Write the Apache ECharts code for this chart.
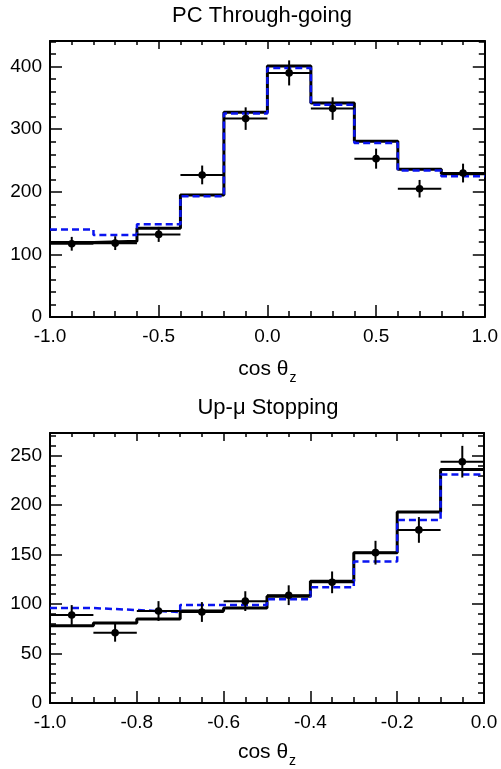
<!DOCTYPE html>
<html>
<head>
<meta charset="utf-8">
<script src="https://cdn.jsdelivr.net/npm/echarts@6/dist/echarts.min.js"></script>
<style>
  html, body { margin: 0; padding: 0; background: #fff; }
  #chart { width: 501px; height: 769px; }
</style>
</head>
<body>
<div id="chart"></div>
<script>
// PC through-going: bins of 0.2 in cos(theta_z)
const pcEdges = [-1.0, -0.8, -0.6, -0.4, -0.2, 0.0, 0.2, 0.4, 0.6, 0.8, 1.0];
const pcBest = [119, 121, 142, 195, 327, 401, 342, 281, 236, 229];
const pcAlt = [140, 131, 148, 193, 325, 398, 339, 278, 234, 225];
const pcData = [117, 118, 132, 227, 317, 390, 333, 253, 205, 230];
const pcErr = [11, 11, 12, 15, 18, 20, 18, 16, 14, 15];

// Upward stopping muons: bins of 0.1
const upEdges = [-1.0, -0.9, -0.8, -0.7, -0.6, -0.5, -0.4, -0.3, -0.2, -0.1, 0.0];
const upBest = [78, 81, 85, 93, 96, 108, 123, 152, 193, 236];
const upAlt = [96, 94, 92, 99, 99, 105, 117, 143, 185, 231];
const upData = [89, 71, 93, 92, 103, 109, 122, 152, 175, 244];
const upErr = [10, 9, 10, 10, 10, 10, 11, 12, 13, 16];

const FONT = 'Liberation Sans, Arial, Helvetica, sans-serif';

// histogram outline as step points (left edge of every bin + right end)
function steps(edges, vals) {
    const pts = vals.map((v, i) => [edges[i], v]);
    pts.push([edges[edges.length - 1], vals[vals.length - 1]]);
    return pts;
}

// data points: [centre, value, error, half width]
function points(edges, vals, errs) {
    return vals.map((v, i) => [(edges[i] + edges[i + 1]) / 2, v, errs[i], (edges[i + 1] - edges[i]) / 2]);
}

const frameLine = { show: true, onZero: false, lineStyle: { color: '#000', width: 2 } };
const noLine = { show: false, onZero: false };

function ticks(len) {
    return { show: true, inside: true, length: len, lineStyle: { color: '#000', width: 1.5 } };
}

// bottom + top x axes, major and minor ticks done as separate axes
function xAxes(grid, min, max, major, minor, nameGap) {
    const base = { gridIndex: grid, type: 'value', min: min, max: max, splitLine: { show: false } };
    return [
        Object.assign({}, base, {
            position: 'bottom', interval: major, axisLine: frameLine, axisTick: ticks(12),
            axisLabel: { color: '#000', fontSize: 19, fontFamily: FONT, margin: 10, formatter: v => v.toFixed(1) },
            name: '{a|cos θ}{b|z}', nameLocation: 'middle', nameGap: nameGap,
            nameTextStyle: {
                color: '#000',
                rich: {
                    a: { fontSize: 21, fontFamily: FONT, color: '#000' },
                    b: { fontSize: 14, fontFamily: FONT, color: '#000', padding: [18, 0, 0, 1] }
                }
            }
        }),
        Object.assign({}, base, {
            position: 'bottom', interval: minor, axisLine: noLine, axisTick: ticks(6), axisLabel: { show: false }
        }),
        Object.assign({}, base, {
            position: 'top', interval: major, axisLine: frameLine, axisTick: ticks(8), axisLabel: { show: false }
        }),
        Object.assign({}, base, {
            position: 'top', interval: minor, axisLine: noLine, axisTick: ticks(4), axisLabel: { show: false }
        })
    ];
}

// left + right y axes
function yAxes(grid, max, major, minor) {
    const base = { gridIndex: grid, type: 'value', min: 0, max: max, splitLine: { show: false } };
    return [
        Object.assign({}, base, {
            position: 'left', interval: major, axisLine: frameLine, axisTick: ticks(12),
            axisLabel: { color: '#000', fontSize: 19, fontFamily: FONT, margin: 8, showMaxLabel: false }
        }),
        Object.assign({}, base, {
            position: 'left', interval: minor, axisLine: noLine, axisTick: ticks(6), axisLabel: { show: false }
        }),
        Object.assign({}, base, {
            position: 'right', interval: major, axisLine: frameLine, axisTick: ticks(12), axisLabel: { show: false }
        }),
        Object.assign({}, base, {
            position: 'right', interval: minor, axisLine: noLine, axisTick: ticks(6), axisLabel: { show: false }
        })
    ];
}

function errorBars(params, api) {
    const x = api.value(0), y = api.value(1), e = api.value(2), hw = api.value(3);
    const c = api.coord([x, y]);
    const l = api.coord([x - hw, y]);
    const r = api.coord([x + hw, y]);
    const t = api.coord([x, y + e]);
    const b = api.coord([x, y - e]);
    const st = { stroke: '#000', lineWidth: 2 };
    return {
        type: 'group',
        children: [
            { type: 'line', shape: { x1: l[0], y1: l[1], x2: r[0], y2: r[1] }, style: st },
            { type: 'line', shape: { x1: t[0], y1: t[1], x2: b[0], y2: b[1] }, style: st },
            { type: 'circle', shape: { cx: c[0], cy: c[1], r: 3.8 }, style: { fill: '#000' } }
        ]
    };
}

function histSeries(xi, yi, edges, best, alt, data, errs) {
    return [
        {
            type: 'line', xAxisIndex: xi, yAxisIndex: yi, step: 'end', symbol: 'none',
            lineStyle: { color: '#000', width: 3 }, data: steps(edges, best), z: 2
        },
        {
            type: 'line', xAxisIndex: xi, yAxisIndex: yi, step: 'end', symbol: 'none',
            lineStyle: { color: '#0a14f0', width: 2.5, type: [7, 4] }, data: steps(edges, alt), z: 3
        },
        {
            type: 'custom', xAxisIndex: xi, yAxisIndex: yi, renderItem: errorBars,
            encode: { x: 0, y: 1 }, data: points(edges, data, errs), z: 4
        }
    ];
}

const chart = echarts.init(document.getElementById('chart'));
chart.setOption({
    backgroundColor: '#fff',
    animation: false,
    title: [
        {
            text: 'PC Through-going', left: 257, top: 0, textAlign: 'center',
            textStyle: { fontSize: 22, fontWeight: 'normal', fontFamily: FONT, color: '#000' }
        },
        {
            text: 'Up-μ Stopping', left: 263, top: 392, textAlign: 'center',
            textStyle: { fontSize: 22, fontWeight: 'normal', fontFamily: FONT, color: '#000' }
        }
    ],
    grid: [
        { left: 50, top: 41, width: 437, height: 276 },
        { left: 50, top: 433, width: 434, height: 276 }
    ],
    xAxis: xAxes(0, -1, 1, 0.5, 0.1, 36).concat(xAxes(1, -1, 0, 0.2, 0.05, 33)),
    yAxis: yAxes(0, 441, 100, 20).concat(yAxes(1, 273, 50, 10)),
    series: histSeries(0, 0, pcEdges, pcBest, pcAlt, pcData, pcErr)
        .concat(histSeries(4, 4, upEdges, upBest, upAlt, upData, upErr))
});
</script>
</body>
</html>
